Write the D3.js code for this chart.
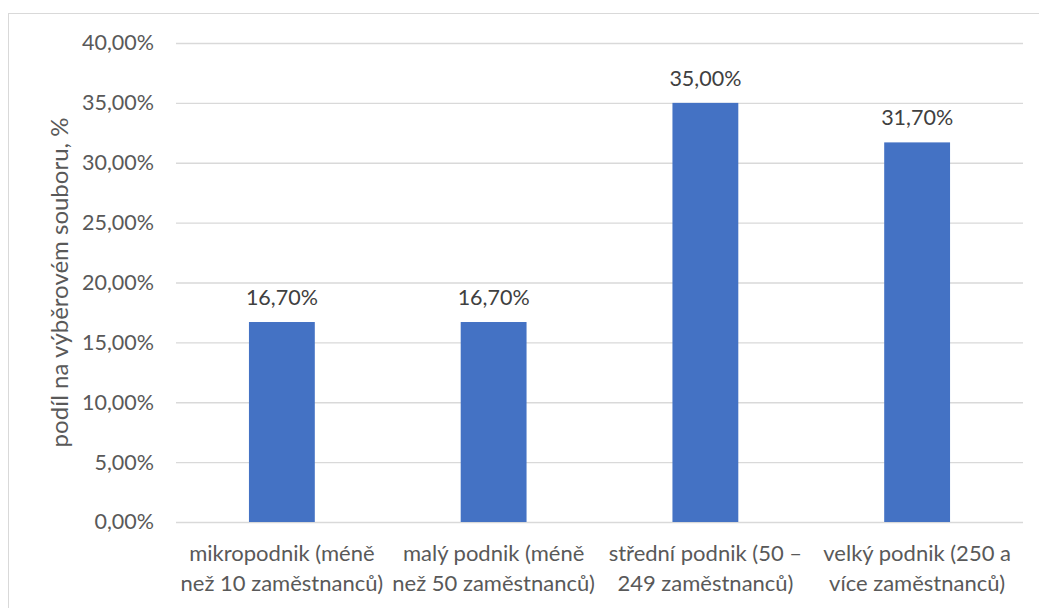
<!DOCTYPE html>
<html>
<head>
<meta charset="utf-8">
<script src="https://cdn.jsdelivr.net/npm/d3@7"></script>
<style>
  html, body { margin: 0; padding: 0; background: #fff; }
  svg { display: block; }
  text { font-family: Lato, "Open Sans", sans-serif; }
</style>
</head>
<body>
<svg id="chart" width="1039" height="608"></svg>
<script>
// Company size categories (two-line labels) and their share in the sample
const categories = [
  ["mikropodnik (méně", "než 10 zaměstnanců)"],
  ["malý podnik (méně", "než 50 zaměstnanců)"],
  ["střední podnik (50 –", "249 zaměstnanců)"],
  ["velký podnik (250 a", "více zaměstnanců)"]
];
const shares = [0.167, 0.167, 0.35, 0.317];
const yTicks = [0, 0.05, 0.10, 0.15, 0.20, 0.25, 0.30, 0.35, 0.40];
const yTitle = "podíl na výběrovém souboru, %";

const cs = d3.formatLocale({ decimal: ",", thousands: "\u00a0", grouping: [3], currency: ["", " Kč"] });
const pct = cs.format(".2%");

const svg = d3.select("#chart");
const W = 1039, H = 608;
const plot = { left: 176, right: 1023, top: 43, bottom: 522 };

// chart frame
svg.append("rect")
  .attr("x", 8.5).attr("y", 13.5)
  .attr("width", W + 10).attr("height", H + 10)
  .attr("fill", "#fff").attr("stroke", "#d9d9d9").attr("stroke-width", 1);

const keys = categories.map(c => c.join(" "));
const x = d3.scaleBand()
  .domain(keys)
  .range([plot.left, plot.right])
  .paddingInner(0.689)
  .paddingOuter(0.3445);

const y = d3.scaleLinear().domain([0, 0.40]).range([plot.bottom, plot.top]);

// gridlines + tick labels
const yAxis = d3.axisLeft(y)
  .tickValues(yTicks)
  .tickSize(-(plot.right - plot.left))
  .tickPadding(22)
  .tickFormat(pct);

const gy = svg.append("g")
  .attr("transform", `translate(${plot.left},0)`)
  .call(yAxis);
gy.select(".domain").remove();
gy.selectAll(".tick line").attr("stroke", "#d9d9d9").attr("stroke-width", 1.3);
gy.selectAll(".tick text")
  .attr("fill", "#595959")
  .style("font-size", "21.5px")
  .style("font-family", "Lato, sans-serif");

// bars
svg.append("g").selectAll("rect")
  .data(shares)
  .join("rect")
  .attr("x", (d, i) => x(keys[i]))
  .attr("width", x.bandwidth())
  .attr("y", d => y(d))
  .attr("height", d => y(0) - y(d))
  .attr("fill", "#4472c4");

// value labels above bars
svg.append("g").selectAll("text")
  .data(shares)
  .join("text")
  .attr("x", (d, i) => x(keys[i]) + x.bandwidth() / 2)
  .attr("y", d => y(d) - 17)
  .attr("text-anchor", "middle")
  .attr("fill", "#404040")
  .style("font-size", "21.5px")
  .text(d => pct(d));

// category labels
const cat = svg.append("g").selectAll("text")
  .data(categories)
  .join("text")
  .attr("text-anchor", "middle")
  .attr("fill", "#595959")
  .style("font-size", "22px")
  .attr("transform", (d, i) => `translate(${x(keys[i]) + x.bandwidth() / 2},0)`);
cat.selectAll("tspan")
  .data(d => d)
  .join("tspan")
  .attr("x", 0)
  .attr("y", (d, j) => 561 + j * 30)
  .text(d => d);

// y axis title
svg.append("text")
  .attr("transform", `translate(68,${(plot.top + plot.bottom) / 2}) rotate(-90)`)
  .attr("text-anchor", "middle")
  .attr("fill", "#595959")
  .style("font-size", "24px")
  .text(yTitle);
</script>
</body>
</html>
